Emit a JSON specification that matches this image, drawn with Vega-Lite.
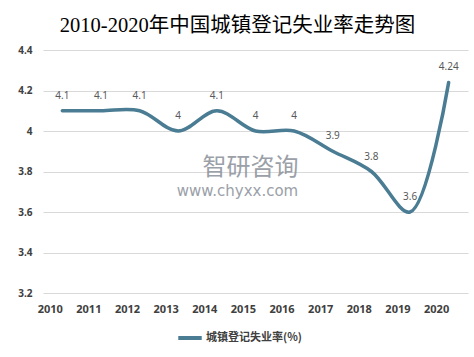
{
  "$schema": "https://vega.github.io/schema/vega-lite/v6.json",
  "width": 425,
  "height": 243,
  "autosize": "none",
  "padding": {"left": 43, "top": 50, "right": 6, "bottom": 64},
  "background": "white",
  "title": {
    "text": "2010-2020年中国城镇登记失业率走势图",
    "font": "Liberation Serif, Noto Sans CJK SC",
    "fontSize": 20.5,
    "fontWeight": "normal",
    "color": "#000000",
    "anchor": "middle",
    "dx": -18,
    "offset": 9
  },
  "config": {
    "view": {"stroke": null},
    "axis": {"labelFont": "Noto Sans", "ticks": false, "domain": false}
  },
  "datasets": {
    "main": [
      {"year": "2010", "rate": 4.1},
      {"year": "2011", "rate": 4.1},
      {"year": "2012", "rate": 4.1},
      {"year": "2013", "rate": 4.0},
      {"year": "2014", "rate": 4.1},
      {"year": "2015", "rate": 4.0},
      {"year": "2016", "rate": 4.0},
      {"year": "2017", "rate": 3.9},
      {"year": "2018", "rate": 3.8},
      {"year": "2019", "rate": 3.6},
      {"year": "2020", "rate": 4.24}
    ],
    "wm1": [{"year": "2015", "rate": 3.815, "t": "智研咨询"}],
    "wm2": [{"year": "2015", "rate": 3.705, "t": "www.chyxx.com"}]
  },
  "layer": [
    {
      "data": {"name": "wm1"},
      "mark": {"type": "text", "font": "Noto Sans CJK SC", "fontSize": 24, "color": "#8a9099", "opacity": 0.85, "align": "center", "baseline": "middle", "dx": -5},
      "encoding": {
        "x": {"field": "year", "type": "ordinal"},
        "y": {"field": "rate", "type": "quantitative"},
        "text": {"field": "t"}
      }
    },
    {
      "data": {"name": "wm2"},
      "mark": {"type": "text", "font": "DejaVu Sans", "fontSize": 15, "color": "#8a9099", "opacity": 0.85, "align": "center", "baseline": "middle", "dx": -18},
      "encoding": {
        "x": {"field": "year", "type": "ordinal"},
        "y": {"field": "rate", "type": "quantitative"},
        "text": {"field": "t"}
      }
    },
    {
      "data": {"name": "main"},
      "mark": {"type": "line", "interpolate": "catmull-rom", "strokeWidth": 3.5, "strokeCap": "round"},
      "encoding": {
        "x": {
          "field": "year", "type": "ordinal", "title": null,
          "scale": {"type": "point", "padding": 0.5},
          "axis": {"labelAngle": 0, "labelFontSize": 11, "labelFontWeight": "bold", "labelColor": "#404040", "labelPadding": 16, "grid": false}
        },
        "y": {
          "field": "rate", "type": "quantitative", "title": null,
          "scale": {"domain": [3.2, 4.4], "nice": false, "zero": false},
          "axis": {"values": [3.2, 3.4, 3.6, 3.8, 4.0, 4.2, 4.4], "format": "~f", "labelFontSize": 10, "labelFontWeight": "bold", "labelColor": "#404040", "labelPadding": 11, "gridColor": "#d9d9d9", "gridWidth": 1}
        },
        "color": {
          "datum": "城镇登记失业率(%)",
          "type": "nominal",
          "scale": {"range": ["#4a7c93"]},
          "legend": {
            "title": null, "orient": "none", "legendX": 133, "legendY": 274,
            "symbolType": "stroke", "symbolStrokeWidth": 4, "symbolSize": 550,
            "labelFont": "Noto Sans CJK SC", "labelFontSize": 11, "labelFontWeight": "bold", "labelColor": "#404040", "labelOffset": 2
          }
        }
      }
    },
    {
      "data": {"name": "main"},
      "mark": {"type": "text", "dy": -15, "fontSize": 10, "font": "Noto Sans", "color": "#595959"},
      "encoding": {
        "x": {"field": "year", "type": "ordinal"},
        "y": {"field": "rate", "type": "quantitative"},
        "text": {"field": "rate", "type": "quantitative", "format": "~g"}
      }
    }
  ]
}
